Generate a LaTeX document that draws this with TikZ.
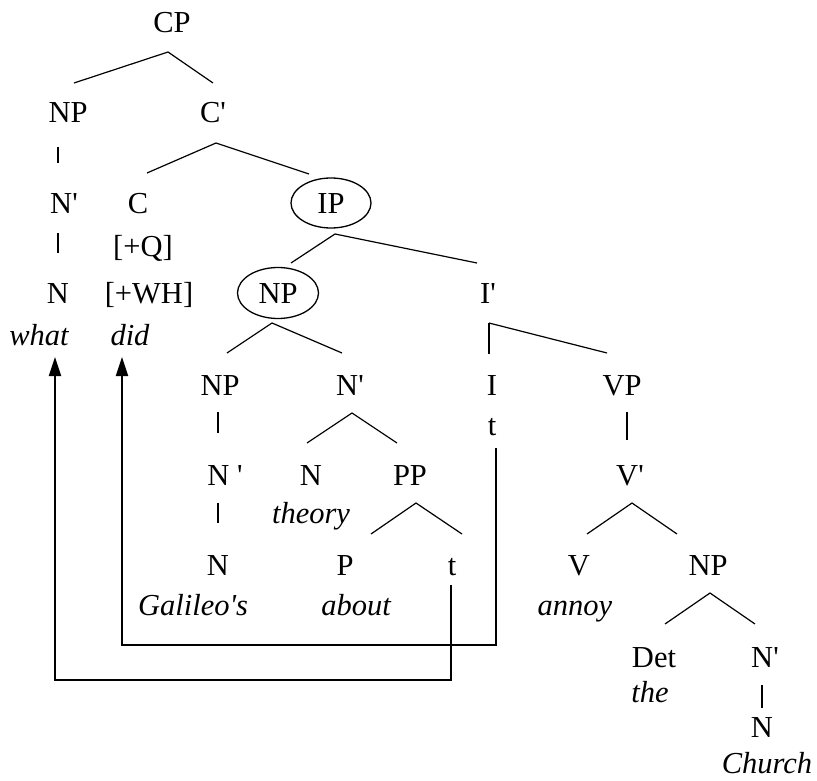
\documentclass[tikz,border=0pt]{standalone}
\usepackage{fontspec}
\setmainfont{Liberation Serif}
\usetikzlibrary{calc,shapes.geometric,arrows.meta}
\newcommand\pq{\textquotesingle}
\begin{document}
\begin{tikzpicture}[x=1pt,y=-1pt,
 lab/.style={inner sep=0pt,outer sep=0pt,anchor=base,text height=20pt,text depth=0pt,font=\fontsize{30.5}{36}\selectfont},
 wrd/.style={lab,font=\fontsize{30.5}{36}\selectfont\itshape},
 circ/.style={lab,draw,ellipse,line width=1.3pt,minimum width=80pt,minimum height=50pt},
 edge/.style={line width=1.2pt},
 bar/.style={line width=2pt},
 thinbar/.style={line width=1.2pt},
 move/.style={line width=2pt,-{Triangle[length=19pt,width=12pt]}}]
\useasboundingbox (0,0) rectangle (817,781);
% nodes
\node[lab] (cp) at (172,33) {CP};
\node[lab] (np1) at (68,123) {NP};
\node[lab] (cbar) at (213,123) {C\pq};
\node[lab] (nbar1) at (64,213) {N\pq};
\node[lab] (c) at (138,213) {C};
\node[circ] (ip) at (331,213) {IP};
\node[lab] (q) at (143,256) {[+Q]};
\node[lab] (n1) at (58,303) {N};
\node[lab] (wh) at (149,303) {[+WH]};
\node[circ,minimum width=81pt,minimum height=51pt] (np2) at (278,303) {NP};
\node[lab] (ibar) at (488,303) {I\pq};
\node[wrd] (what) at (39,345) {what};
\node[wrd] (did) at (130,345) {did};
\node[lab] (np3) at (220,395) {NP};
\node[lab] (nbar2) at (350,395) {N\pq};
\node[lab] (i) at (492,395) {I};
\node[lab] (vp) at (622,395) {VP};
\node[lab] (t1) at (492,435) {t};
\node[lab] (nbar3) at (225,485) {N \pq};
\node[lab] (n2) at (311,485) {N};
\node[lab] (pp) at (410,485) {PP};
\node[lab] (vbar) at (630,485) {V\pq};
\node[wrd] (theory) at (311,523) {theory};
\node[lab] (n3) at (218,575) {N};
\node[lab] (p) at (345,575) {P};
\node[lab] (t2) at (452,575) {t};
\node[lab] (v) at (579,575) {V};
\node[lab] (np4) at (708,575) {NP};
\node[wrd] (galileo) at (193,615) {Galileo\pq s};
\node[wrd] (about) at (356,615) {about};
\node[wrd] (annoy) at (575,615) {annoy};
\node[lab] (det) at (654,667) {Det};
\node[lab] (nbar4) at (765,667) {N\pq};
\node[wrd] (the) at (650,702) {the};
\node[lab] (n4) at (762,737) {N};
\node[wrd] (church) at (767,773) {Church};
% branches
\draw[edge] ($(np1.north)+(6,-20)$) -- ($(cp.south)+(-4,19)$) -- ($(cbar.north)+(0,-20)$);
\draw[edge] ($(c.north)+(9,-20)$) -- ($(cbar.south)+(3,20)$) -- ($(ip.north)+(-22,-4)$);
\draw[edge] ($(np2.north)+(13,-4.5)$) -- ($(ip.south)+(4,6)$) -- ($(ibar.north)+(-11,-20)$);
\draw[edge] ($(np3.north)+(7,-22)$) -- ($(np2.south)+(-6,4.5)$) -- ($(nbar2.north)+(-8,-22)$);
\draw[edge] ($(vp.north)+(-15,-22)$) -- ($(ibar.south)+(1,20)$);
\draw[bar] ($(ibar.south)+(1,20)$) -- ($(i.north)+(-3,-21)$);
\draw[edge] ($(n2.north)+(-4,-22)$) -- ($(nbar2.south)+(2,18)$) -- ($(pp.north)+(-13,-22)$);
\draw[edge] ($(p.north)+(26,-21)$) -- ($(pp.south)+(6,18)$) -- ($(t2.north)+(10,-21)$);
\draw[edge] ($(v.north)+(8,-21)$) -- ($(vbar.south)+(2,18)$) -- ($(np4.north)+(-31,-21)$);
\draw[edge] ($(det.north)+(11,-23)$) -- ($(np4.south)+(2,18)$) -- ($(nbar4.north)+(-10,-23)$);
% unary bars
\draw[bar] ($(np1.south)+(-10,24)$) -- ($(np1.south)+(-10,40)$);
\draw[bar] ($(nbar1.south)+(-6,20)$) -- ($(nbar1.south)+(-6,40)$);
\draw[bar] ($(np3.south)+(-2,17)$) -- ($(np3.south)+(-2,38)$);
\draw[bar] ($(nbar3.south)+(-7,18)$) -- ($(nbar3.south)+(-7,38)$);
\draw[thinbar] ($(vp.south)+(5,17)$) -- ($(vp.south)+(5,45)$);
\draw[thinbar] ($(nbar4.south)+(-3,18)$) -- ($(nbar4.south)+(-3,41)$);
% movement arrows
\coordinate (m1) at (55,680);
\coordinate (m2) at (122,645);
\draw[move] ($(t2.south)+(-1,10)$) |- (m1) -- ($(what.south)+(16,12)$);
\draw[move] ($(t1.south)+(4,13)$) |- (m2) -- ($(did.south)+(-8,12)$);
\end{tikzpicture}
\end{document}
